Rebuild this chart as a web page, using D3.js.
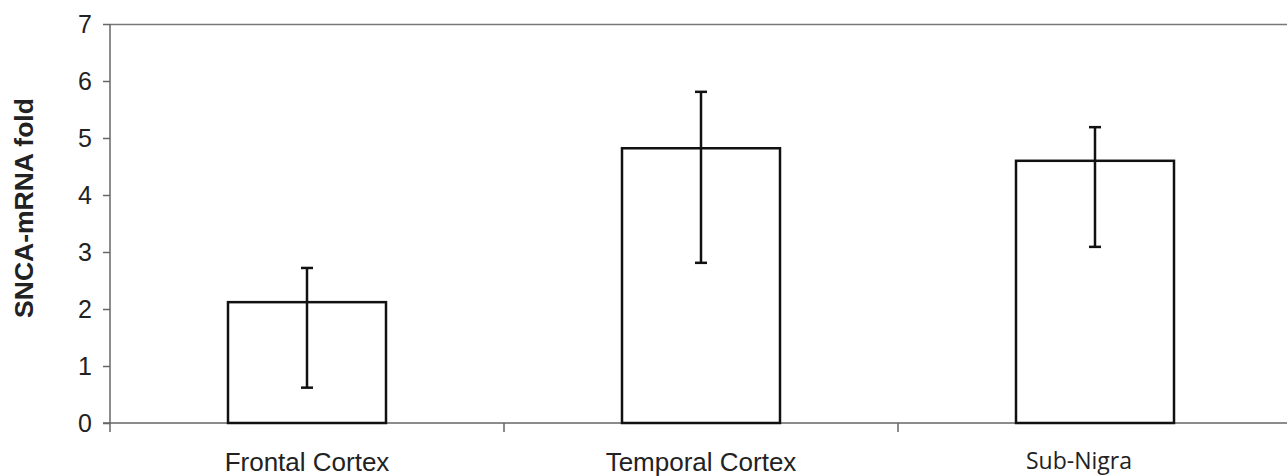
<!DOCTYPE html>
<html>
<head>
<meta charset="utf-8">
<script src="https://cdn.jsdelivr.net/npm/d3@7"></script>
<style>
    body { margin: 0; background: #fff; }
    svg { display: block; }
</style>
</head>
<body>
<svg id="chart" width="1287" height="476"></svg>
<script>
// Chart data
const categories = ["Frontal Cortex", "Temporal Cortex", "Sub-Nigra"];
const foldValues = [2.12, 4.82, 4.60];
const errLow = [0.62, 2.81, 3.09];
const errHigh = [2.72, 5.81, 5.19];
const yTicks = [0, 1, 2, 3, 4, 5, 6, 7];

let svg = d3.select("#chart"),
    margin = {top: 24, right: -5, bottom: 53, left: 110},
    width = +svg.attr("width") - margin.left - margin.right,
    height = +svg.attr("height") - margin.top - margin.bottom;

let g = svg.append("g")
    .attr("transform", "translate(" + margin.left + "," + margin.top + ")");

// Scales
let x = d3.scaleBand()
    .domain(categories)
    .range([0, width])
    .paddingInner(0)
    .paddingOuter(0);

let y = d3.scaleLinear()
    .domain([0, 7])
    .range([height, 0]);

// Top border of plot area
g.append("line")
    .attr("x1", 0)
    .attr("x2", width)
    .attr("y1", 0.5)
    .attr("y2", 0.5)
    .style("stroke", "#777")
    .style("stroke-width", 1.5);

// Y axis
let yAxis = g.append("g")
    .call(d3.axisLeft(y).tickValues(yTicks).tickSize(7).tickPadding(11).tickFormat(d3.format("d")));
yAxis.select(".domain").style("stroke", "#666").style("stroke-width", 1.5)
    .attr("d", "M0," + (height + 9) + "V0");
yAxis.selectAll(".tick line").style("stroke", "#666").style("stroke-width", 1.5);
yAxis.selectAll(".tick text")
    .style("font-family", "Arial, 'Liberation Sans', sans-serif")
    .style("font-size", "25px")
    .style("fill", "#222");

// X axis: ticks on band boundaries, labels in band centres
let xAxisG = g.append("g").attr("transform", "translate(0," + height + ")");
xAxisG.append("line")
    .attr("x1", -7)
    .attr("x2", width)
    .style("stroke", "#666")
    .style("stroke-width", 1.5);
xAxisG.selectAll(".sep")
    .data(categories.slice(1))
    .enter()
    .append("line")
    .attr("class", "sep")
    .attr("x1", d => x(d))
    .attr("x2", d => x(d))
    .attr("y1", 0)
    .attr("y2", 9)
    .style("stroke", "#666")
    .style("stroke-width", 1.5);
xAxisG.selectAll(".cat")
    .data(categories)
    .enter()
    .append("text")
    .attr("class", "cat")
    .attr("x", (d, i) => x(d) + x.bandwidth() / 2 + (i === 2 ? -16 : 0))
    .attr("y", (d, i) => i === 2 ? 46 : 48)
    .attr("text-anchor", "middle")
    .style("font-family", (d, i) => i === 2 ? "'Open Sans', sans-serif" : "Arial, 'Liberation Sans', sans-serif")
    .style("font-size", (d, i) => i === 2 ? "23px" : "26px")
    .style("fill", "#222")
    .text(d => d);

// Bars
let barW = 158;
g.selectAll(".bar")
    .data(categories)
    .enter()
    .append("rect")
    .attr("class", "bar")
    .attr("x", d => x(d) + x.bandwidth() / 2 - barW / 2)
    .attr("y", (d, i) => y(foldValues[i]))
    .attr("width", barW)
    .attr("height", (d, i) => height - y(foldValues[i]))
    .style("fill", "#fff")
    .style("stroke", "#111")
    .style("stroke-width", 2.5);

// Error bars
let err = g.append("g").attr("class", "errors");
categories.forEach(function (c, i) {
    let cx = x(c) + x.bandwidth() / 2;
    err.append("line")
        .attr("x1", cx).attr("x2", cx)
        .attr("y1", y(errLow[i])).attr("y2", y(errHigh[i]))
        .style("stroke", "#111").style("stroke-width", 2.5);
    [errLow[i], errHigh[i]].forEach(function (v) {
        err.append("line")
            .attr("x1", cx - 6).attr("x2", cx + 6)
            .attr("y1", y(v)).attr("y2", y(v))
            .style("stroke", "#111").style("stroke-width", 2.5);
    });
});

// Y axis title
svg.append("text")
    .attr("transform", "translate(33," + (margin.top + 184) + ") rotate(-90)")
    .attr("text-anchor", "middle")
    .style("font-family", "Arial, 'Liberation Sans', sans-serif")
    .style("font-weight", "bold")
    .style("font-size", "26.5px")
    .style("fill", "#222")
    .text("SNCA-mRNA fold");
</script>
</body>
</html>
